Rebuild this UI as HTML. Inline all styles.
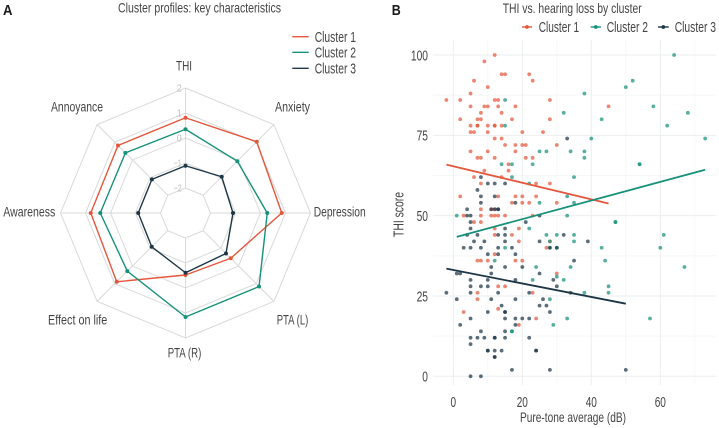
<!DOCTYPE html>
<html lang="en">
<head>
<meta charset="utf-8">
<title>Cluster profiles and THI vs. hearing loss</title>
<style>
html,body{margin:0;padding:0;background:#fff;}
svg{display:block;}
text{font-family:"Liberation Sans",sans-serif;fill:#444;}
.b{font-family:"Liberation Sans",sans-serif;font-weight:bold;fill:#1a1a1a;}
</style>
</head>
<body>
<svg id="chart" xmlns="http://www.w3.org/2000/svg" width="719" height="428" viewBox="0 0 719 428">
  <g id="radar-grid"></g>
  <g id="radar-series"></g>
  <g id="radar-ticks"></g>

  <text class="b" x="3" y="15" font-size="14.5" textLength="9.5" lengthAdjust="spacingAndGlyphs">A</text>
  <text x="118" y="12.7" font-size="14" textLength="163" lengthAdjust="spacingAndGlyphs">Cluster profiles: key characteristics</text>

  <g>
    <line x1="292.3" x2="308.7" y1="36.7" y2="36.7" stroke="#e4573d" stroke-width="1.4"/>
    <text x="314.7" y="41.8" font-size="14.5" textLength="41.3" lengthAdjust="spacingAndGlyphs">Cluster 1</text>
    <line x1="292.3" x2="308.7" y1="52.3" y2="52.3" stroke="#16917a" stroke-width="1.4"/>
    <text x="314.7" y="57.6" font-size="14.5" textLength="41.3" lengthAdjust="spacingAndGlyphs">Cluster 2</text>
    <line x1="292.3" x2="308.7" y1="68.3" y2="68.3" stroke="#1d3646" stroke-width="1.4"/>
    <text x="314.7" y="73.4" font-size="14.5" textLength="41.3" lengthAdjust="spacingAndGlyphs">Cluster 3</text>
  </g>

  <g>
    <text x="176" y="70.7" font-size="14" textLength="16" lengthAdjust="spacingAndGlyphs">THI</text>
    <text x="275" y="111.7" font-size="14" textLength="35" lengthAdjust="spacingAndGlyphs">Anxiety</text>
    <text x="313.7" y="216.7" font-size="14" textLength="52" lengthAdjust="spacingAndGlyphs">Depression</text>
    <text x="276.7" y="324.7" font-size="14" textLength="31.6" lengthAdjust="spacingAndGlyphs">PTA (L)</text>
    <text x="167.7" y="357.7" font-size="14" textLength="33.6" lengthAdjust="spacingAndGlyphs">PTA (R)</text>
    <text x="48" y="324.7" font-size="14" textLength="59.3" lengthAdjust="spacingAndGlyphs">Effect on life</text>
    <text x="3.3" y="216.7" font-size="14" textLength="52" lengthAdjust="spacingAndGlyphs">Awareness</text>
    <text x="51" y="111.7" font-size="14" textLength="52" lengthAdjust="spacingAndGlyphs">Annoyance</text>
  </g>

  <g id="scatter-grid"></g>
  <g id="scatter-points"></g>
  <g id="scatter-lines"></g>
  <g id="scatter-ticks"></g>

  <text class="b" x="391.7" y="15" font-size="14.5" textLength="9" lengthAdjust="spacingAndGlyphs">B</text>
  <text x="502.7" y="12.9" font-size="14" textLength="139" lengthAdjust="spacingAndGlyphs">THI vs. hearing loss by cluster</text>

  <g>
    <line x1="522" x2="532" y1="27" y2="27" stroke="#e4573d" stroke-width="1.4"/>
    <circle cx="527" cy="27" r="1.9" fill="#e4573d"/>
    <text x="538.7" y="32" font-size="14.5" textLength="40.5" lengthAdjust="spacingAndGlyphs">Cluster 1</text>
    <line x1="590.7" x2="601" y1="27" y2="27" stroke="#16917a" stroke-width="1.4"/>
    <circle cx="595.8" cy="27" r="1.9" fill="#16917a"/>
    <text x="606.7" y="32" font-size="14.5" textLength="41.3" lengthAdjust="spacingAndGlyphs">Cluster 2</text>
    <line x1="658" x2="668.7" y1="27" y2="27" stroke="#1d3646" stroke-width="1.4"/>
    <circle cx="663.3" cy="27" r="1.9" fill="#1d3646"/>
    <text x="674.7" y="32" font-size="14.5" textLength="41.3" lengthAdjust="spacingAndGlyphs">Cluster 3</text>
  </g>

  <text x="520" y="421.9" font-size="14" textLength="106" lengthAdjust="spacingAndGlyphs">Pure-tone average (dB)</text>
  <text transform="translate(403.5 237) rotate(-90)" x="0" y="0" font-size="14.5" textLength="45" lengthAdjust="spacingAndGlyphs">THI score</text>
</svg>

<script>
// ---------- Radar data ----------
const radarCategories = ["THI","Anxiety","Depression","PTA (L)","PTA (R)","Effect on life","Awareness","Annoyance"];
const radarTicks = [-2,-1,0,1,2];
const radarCluster1 = [0.81,1.03,0.85,-0.44,-0.52,0.89,0.79,0.82];
const radarCluster2 = [0.35,-0.07,0.27,1.16,1.16,0.29,0.41,0.40];
const radarCluster3 = [-1.11,-0.95,-1.10,-0.71,-0.61,-1.09,-1.11,-1.10];

// ---------- Scatter data ----------
const xTickValues = [0,20,40,60];
const yTickValues = [0,25,50,75,100];
const xMinorValues = [10,30,50,70];
const yMinorValues = [12.5,37.5,62.5,87.5];
const cluster1X = [12,9,14,15,22,6,23,10,5,-2,2,12,13,28,5,9,10,13,18,45,8,14,2,7,8,17,28,5,7,7,10,12,12,14,5,6,10,20,26,12,14,15,18,20,21,30,5,10,18,7,8,12,21,23,16,9,16,6,14,8,24,28,2,13,18,20,24,17,20,22,30,8,11,12,3,8,11,12,13,15,23,6,8,12,19,12,17,19,28,27,12,7,8,10,18,20,30,13,15,7,23,7,13,3,24,19];
const cluster1Y = [100,98,94,94,94,92,92,90,88,86,86,86,86,86,84,84,84,84,84,84,82,82,80,80,80,80,80,78,78,78,78,78,78,78,76,76,76,76,76,74,74,72,72,72,72,72,70,70,70,68,68,68,68,68,66,64,64,62,62,60,60,60,56,56,56,56,56,54,54,54,54,52,52,52,50,50,50,50,50,50,50,48,48,46,46,44,44,42,42,40,38,36,36,36,36,36,32,28,28,26,26,24,21,20,18,16];
const cluster2X = [64,52,50,38,15,58,32,68,43,15,62,40,73,25,27,34,38,38,14,17,23,54,54,17,35,22,33,25,35,1,33,47,47,22,27,30,35,61,28,35,15,28,30,43,60,12,44,24,34,67,30,23,32,45,38,45,28,33,57,29,17,17];
const cluster2Y = [100,92,90,88,86,84,82,82,80,78,78,74,74,70,70,70,70,68,66,66,66,66,66,62,62,60,56,54,54,50,50,48,48,46,44,44,44,44,42,42,40,40,40,40,40,36,36,34,34,34,31,30,30,28,26,26,24,18,18,16,14,14];
const cluster3X = [33,8,10,12,15,7,8,12,8,18,4,11,12,13,13,4,5,25,5,21,5,15,4,7,13,15,32,6,9,15,25,39,3,5,8,13,17,28,30,10,13,18,35,11,15,20,1,2,11,25,5,10,18,29,5,8,10,30,-2,5,13,22,34,1,11,18,26,14,25,27,10,15,15,28,5,15,18,20,22,2,18,8,15,5,7,9,12,12,15,22,5,10,10,12,14,24,24,12,12,17,28,50,5,8];
const cluster3Y = [74,62,60,60,60,58,56,56,54,54,52,52,52,52,52,50,50,50,48,48,46,46,44,44,44,44,44,42,42,42,42,42,40,40,40,40,40,40,40,38,38,38,36,34,34,34,32,32,32,32,30,30,30,30,28,28,28,28,26,26,26,26,26,24,24,24,24,22,22,22,20,20,20,20,18,18,18,18,18,16,16,14,14,12,12,12,12,12,12,12,10,8,8,8,8,8,8,6,6,2,2,2,0,0];
const trend1X = [-2,45];
const trend1Y = [65.9,53.8];
const trend2X = [1,73];
const trend2Y = [43.4,64.3];
const trend3X = [-2,50];
const trend3Y = [33.5,22.6];

const NS = "http://www.w3.org/2000/svg";
const C1 = "#e4573d", C2 = "#16917a", C3 = "#1d3646";
function make(tag, parent, attrs) {
  const el = document.createElementNS(NS, tag);
  for (const k in attrs) el.setAttribute(k, attrs[k]);
  parent.appendChild(el);
  return el;
}

// ---------- Radar scales ----------
const cx = 185.5, cy = 213;
function rScale(v) { return (v + 3) * 25; }
function angle(i) { return i * 2 * Math.PI / radarCategories.length; }
function radarX(i, v) { return cx + rScale(v) * Math.sin(angle(i)); }
function radarY(i, v) { return cy - rScale(v) * Math.cos(angle(i)); }

const radarGrid = document.getElementById("radar-grid");
radarTicks.forEach(function (t) {
  const pts = radarCategories.map(function (c, i) { return radarX(i, t).toFixed(2) + "," + radarY(i, t).toFixed(2); }).join(" ");
  const ring = make("polygon", radarGrid, { points: pts, fill: "none", stroke: "#d9d9d9", "stroke-width": 1 });
  
  
});
radarCategories.forEach(function (c, i) {
  const spoke = make("line", radarGrid, { x1: radarX(i, -2), y1: radarY(i, -2), x2: radarX(i, 2), y2: radarY(i, 2), stroke: "#d9d9d9", "stroke-width": 1 });
  
  
});

const radarSeriesGroup = document.getElementById("radar-series");
[[radarCluster1, C1], [radarCluster2, C2], [radarCluster3, C3]].forEach(function (s) {
  const pts = s[0].map(function (v, i) { return radarX(i, v).toFixed(2) + "," + radarY(i, v).toFixed(2); }).join(" ");
  const poly = make("polygon", radarSeriesGroup, { points: pts, fill: "none", stroke: s[1], "stroke-width": 1.4, "stroke-linejoin": "round" });
  
  
  s[0].forEach(function (v, i) {
    const dot = make("circle", radarSeriesGroup, { cx: radarX(i, v), cy: radarY(i, v), r: 2, fill: s[1] });
    
    
  });
});

const radarTickGroup = document.getElementById("radar-ticks");
radarTicks.forEach(function (t) {
  const label = make("text", radarTickGroup, { x: cx - 3.8, y: radarY(0, t) + 3.6, "font-size": 10.5, "text-anchor": "end", textLength: t < 0 ? 8 : 5, lengthAdjust: "spacingAndGlyphs", style: "fill:#bdbdbd" });
  label.textContent = t < 0 ? "\u2212" + Math.abs(t) : String(t);
  
  
});

// ---------- Scatter scales ----------
function xScale(v) { return 453.3 + v * 3.45; }
function yScale(v) { return 376.3 - v * 3.213; }
const plotLeft = 433, plotRight = 716, plotTop = 40, plotBottom = 385;

const scatterGrid = document.getElementById("scatter-grid");
xMinorValues.forEach(function (v) {
  const l = make("line", scatterGrid, { x1: xScale(v), x2: xScale(v), y1: plotTop, y2: plotBottom, stroke: "#f4f5f5", "stroke-width": 0.8 });
  
  
});
yMinorValues.forEach(function (v) {
  const l = make("line", scatterGrid, { x1: plotLeft, x2: plotRight, y1: yScale(v), y2: yScale(v), stroke: "#f4f5f5", "stroke-width": 0.8 });
  
  
});
xTickValues.forEach(function (v) {
  const l = make("line", scatterGrid, { x1: xScale(v), x2: xScale(v), y1: plotTop, y2: plotBottom, stroke: "#ebeeef", "stroke-width": 1 });
  
  
});
yTickValues.forEach(function (v) {
  const l = make("line", scatterGrid, { x1: plotLeft, x2: plotRight, y1: yScale(v), y2: yScale(v), stroke: "#ebeeef", "stroke-width": 1 });
  
  
});

const pointGroup = document.getElementById("scatter-points");
[[cluster1X, cluster1Y, C1], [cluster2X, cluster2Y, C2], [cluster3X, cluster3Y, C3]].forEach(function (s) {
  s[0].forEach(function (x, i) {
    const p = make("circle", pointGroup, { cx: xScale(x), cy: yScale(s[1][i]), r: 1.9, fill: s[2], "fill-opacity": 0.72 });
    
    
  });
});

const lineGroup = document.getElementById("scatter-lines");
[[trend1X, trend1Y, C1], [trend2X, trend2Y, C2], [trend3X, trend3Y, C3]].forEach(function (s) {
  const l = make("line", lineGroup, { x1: xScale(s[0][0]), y1: yScale(s[1][0]), x2: xScale(s[0][1]), y2: yScale(s[1][1]), stroke: s[2], "stroke-width": 1.8 });
  
  
});

const tickGroup = document.getElementById("scatter-ticks");
xTickValues.forEach(function (v) {
  const s = String(v);
  const t = make("text", tickGroup, { x: xScale(v), y: 406.9, "font-size": 14.5, "text-anchor": "middle", textLength: s.length * 5.6, lengthAdjust: "spacingAndGlyphs" });
  t.textContent = s;
  
  
});
yTickValues.forEach(function (v) {
  const s = String(v);
  const t = make("text", tickGroup, { x: 428, y: yScale(v) + 5.3, "font-size": 14.5, "text-anchor": "end", textLength: s.length * 5.7, lengthAdjust: "spacingAndGlyphs" });
  t.textContent = s;
  
  
});
</script>
</body>
</html>
